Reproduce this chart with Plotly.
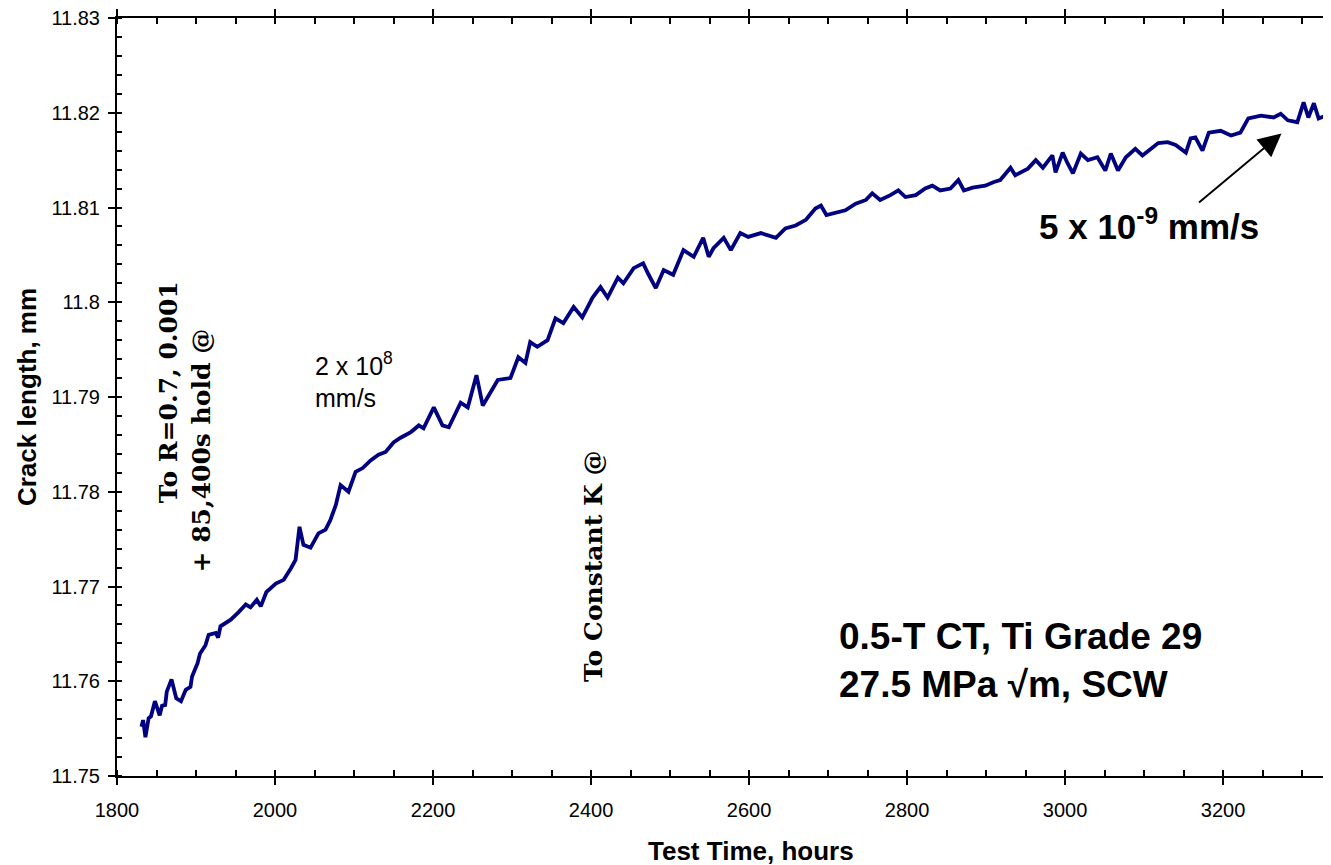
import plotly.graph_objects as go

# ---- data ----
hours = [1831, 1833, 1836, 1840, 1843, 1848, 1854, 1857, 1861, 1863, 1869, 1875, 1881, 1887, 1893, 1895,
         1902, 1905, 1912, 1916, 1925, 1928, 1931, 1937, 1944, 1954, 1963, 1969, 1977, 1982, 1989, 2001,
         2011, 2020, 2026, 2031, 2036, 2045, 2055, 2064, 2070, 2077, 2083, 2093, 2102, 2111, 2121, 2131,
         2140, 2150, 2159, 2172, 2182, 2188, 2201, 2212, 2220, 2235, 2244, 2255, 2263, 2282, 2298, 2308,
         2317, 2323, 2332, 2345, 2355, 2365, 2378, 2389, 2402, 2412, 2421, 2434, 2441, 2454, 2466, 2473,
         2482, 2492, 2504, 2517, 2530, 2542, 2549, 2555, 2568, 2577, 2589, 2599, 2615, 2634, 2646, 2659,
         2672, 2684, 2691, 2698, 2710, 2722, 2735, 2748, 2756, 2766, 2779, 2789, 2798, 2811, 2823, 2832,
         2842, 2855, 2865, 2872, 2883, 2899, 2910, 2918, 2931, 2937, 2953, 2963, 2972, 2984, 2988, 2997,
         3003, 3010, 3020, 3029, 3041, 3051, 3058, 3067, 3077, 3089, 3098, 3108, 3118, 3130, 3140, 3153,
         3159, 3165, 3174, 3182, 3197, 3210, 3222, 3232, 3248, 3264, 3273, 3282, 3294, 3302, 3308, 3315,
         3321, 3330, 3338, 3344]
crack_mm = [11.7552, 11.7559, 11.7541, 11.7561, 11.7563, 11.7579, 11.7564, 11.7574, 11.7575, 11.7589,
            11.7602, 11.7582, 11.7579, 11.7591, 11.7594, 11.7605, 11.7619, 11.7629, 11.7638, 11.7649,
            11.7651, 11.7646, 11.7658, 11.7661, 11.7665, 11.7673, 11.7681, 11.7678, 11.7686, 11.7679,
            11.7694, 11.7703, 11.7707, 11.7719, 11.7728, 11.7763, 11.7744, 11.7741, 11.7756, 11.7760,
            11.7770, 11.7786, 11.7807, 11.7800, 11.7821, 11.7825, 11.7833, 11.7839, 11.7842, 11.7852,
            11.7857, 11.7863, 11.7870, 11.7867, 11.7889, 11.7870, 11.7868, 11.7894, 11.7889, 11.7923,
            11.7891, 11.7918, 11.7920, 11.7942, 11.7936, 11.7958, 11.7953, 11.7960, 11.7983, 11.7978,
            11.7995, 11.7984, 11.8005, 11.8016, 11.8005, 11.8026, 11.8020, 11.8036, 11.8041, 11.8029,
            11.8015, 11.8034, 11.8029, 11.8055, 11.8048, 11.8068, 11.8048, 11.8057, 11.8068, 11.8055,
            11.8073, 11.8069, 11.8073, 11.8068, 11.8078, 11.8081, 11.8087, 11.8099, 11.8102, 11.8092,
            11.8095, 11.8097, 11.8104, 11.8108, 11.8115, 11.8108, 11.8113, 11.8118, 11.8111, 11.8113,
            11.8120, 11.8123, 11.8118, 11.8120, 11.8129, 11.8118, 11.8121, 11.8123, 11.8127, 11.8129,
            11.8142, 11.8134, 11.8141, 11.8150, 11.8142, 11.8155, 11.8137, 11.8158, 11.8147, 11.8136,
            11.8157, 11.8150, 11.8153, 11.8139, 11.8157, 11.8139, 11.8153, 11.8162, 11.8155, 11.8162,
            11.8168, 11.8169, 11.8166, 11.8158, 11.8173, 11.8174, 11.8160, 11.8179, 11.8181, 11.8176,
            11.8179, 11.8194, 11.8197, 11.8195, 11.8199, 11.8192, 11.8190, 11.8211, 11.8195, 11.8210,
            11.8194, 11.8197, 11.8206, 11.8203]

x_range = [1800, 3346.8]
y_range = [11.75, 11.83]
x_ticks = [1800, 2000, 2200, 2400, 2600, 2800, 3000, 3200]
y_ticks = [11.75, 11.76, 11.77, 11.78, 11.79, 11.80, 11.81, 11.82, 11.83]
y_tick_text = ["11.75", "11.76", "11.77", "11.78", "11.79", "11.8", "11.81", "11.82", "11.83"]

SANS = "Arial, Liberation Sans, sans-serif"
SERIF = "DejaVu Serif, serif"
NAVY = "#000080"

fig = go.Figure()
fig.add_trace(go.Scatter(x=hours, y=crack_mm, mode="lines",
                         line=dict(color=NAVY, width=3.8), showlegend=False, hoverinfo="skip"))
# dummy trace for the overlay axes that draw the inner half of the major ticks
fig.add_trace(go.Scatter(x=[None], y=[None], xaxis="x2", yaxis="y2", showlegend=False))

common_x = dict(range=x_range, tickvals=x_ticks, showgrid=False, zeroline=False)
common_y = dict(range=y_range, tickvals=y_ticks, showgrid=False, zeroline=False)

# page body has an 8px margin: the figure is offset so the plot sits where the reference has it;
# the plot runs past the right edge of the window, as the cropped reference does
fig.update_layout(
    width=1331, height=857,
    margin=dict(l=109, r=0, t=10, b=89),
    paper_bgcolor="white", plot_bgcolor="white",
    xaxis=dict(**common_x, ticktext=[str(v) for v in x_ticks],
               showline=True, linecolor="black", linewidth=2, mirror="allticks",
               ticks="outside", ticklen=7, tickwidth=2, tickcolor="black",
               minor=dict(ticks="inside", dtick=50, tick0=1800, ticklen=6, tickwidth=1.5, tickcolor="black"),
               tickfont=dict(family=SANS, size=20, color="black"), ticklabelstandoff=8,
               ticklabeloverflow="allow"),
    yaxis=dict(**common_y, ticktext=y_tick_text,
               showline=True, linecolor="black", linewidth=2, mirror=False,
               ticks="outside", ticklen=7, tickwidth=2, tickcolor="black",
               minor=dict(ticks="inside", dtick=0.002, tick0=11.75, ticklen=5, tickwidth=1.5, tickcolor="black"),
               tickfont=dict(family=SANS, size=20, color="black"), ticklabelstandoff=4,
               ticklabeloverflow="allow"),
    xaxis2=dict(**common_x, overlaying="x", anchor="y2", showticklabels=False, showline=False,
                ticks="inside", ticklen=6, tickwidth=2, tickcolor="black", mirror="allticks"),
    yaxis2=dict(**common_y, overlaying="y", anchor="x2", showticklabels=False, showline=False,
                ticks="inside", ticklen=3, tickwidth=2, tickcolor="black"),
)

ann = []
# axis titles
ann.append(dict(text="<b>Test Time, hours</b>", xref="x", yref="paper", x=2602, y=-0.0985,
                showarrow=False, xanchor="center", yanchor="middle",
                font=dict(family=SANS, size=26, color="black")))
ann.append(dict(text="<b>Crack length, mm</b>", xref="paper", yref="paper", x=-0.0736, y=0.5,
                showarrow=False, textangle=-90, xanchor="center", yanchor="middle",
                font=dict(family=SANS, size=26, color="black")))
# rotated serif notes
ann.append(dict(text="<b>To R=0.7, 0.001</b>", x=1864.6, y=11.7905, showarrow=False, textangle=-90,
                xanchor="center", yanchor="middle", font=dict(family=SERIF, size=25, color="black")))
ann.append(dict(text="<b>+ 85,400s hold @</b>", x=1906.9, y=11.7844, showarrow=False, textangle=-90,
                xanchor="center", yanchor="middle", font=dict(family=SERIF, size=25, color="black")))
ann.append(dict(text="<b>To Constant K @</b>", x=2403.1, y=11.7722, showarrow=False, textangle=-90,
                xanchor="center", yanchor="middle", font=dict(family=SERIF, size=25, color="black")))
# rate notes
ann.append(dict(text="2 x 10<sup>8</sup><br>mm/s", x=2048.0, y=11.7918, showarrow=False,
                xanchor="left", yanchor="middle", align="left",
                font=dict(family=SANS, size=25, color="black")))
ann.append(dict(text="<b>5 x 10<sup>-9</sup> mm/s</b>", x=3106.0, y=11.8083, showarrow=False,
                xanchor="center", yanchor="middle", font=dict(family=SANS, size=35, color="black")))
ann.append(dict(text="<b>0.5-T CT, Ti Grade 29<br>27.5 MPa \u221am, SCW</b>", x=2711.0, y=11.7622,
                showarrow=False, xanchor="left", yanchor="middle", align="left",
                font=dict(family=SANS, size=37, color="black")))
# arrow
ann.append(dict(text="", x=3274.0, y=11.8178, ax=3167.7, ay=11.8104, axref="x", ayref="y",
                showarrow=True, arrowhead=2, arrowsize=2.3, arrowwidth=2, arrowcolor="black"))
fig.update_layout(annotations=ann)

fig.write_html("out.html")
